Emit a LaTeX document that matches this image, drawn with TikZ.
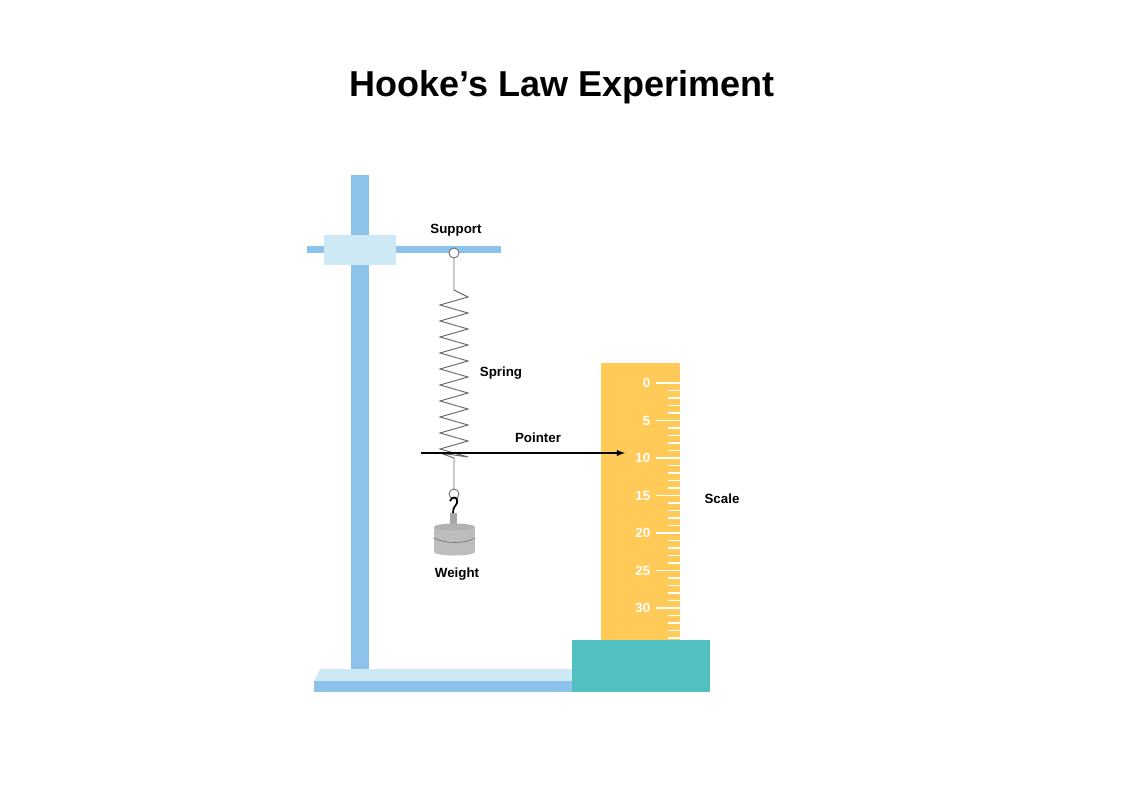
\documentclass[tikz,border=0pt]{standalone}
\usepackage{fontspec}
\setmainfont{Liberation Sans}
\usetikzlibrary{positioning}
\definecolor{rodblue}{HTML}{8DC3EA}
\definecolor{clampblue}{HTML}{CDE9F5}
\definecolor{rulergold}{HTML}{FFCA57}
\definecolor{baseteal}{HTML}{52BFC1}
\definecolor{weightgray}{HTML}{BDBDBD}
\tikzset{
  lbl/.style={font=\bfseries\fontsize{10}{12}\selectfont},
  num/.style={font=\bfseries\fontsize{10}{12}\selectfont, text=white, anchor=east},
}
\begin{document}
\begin{tikzpicture}[x=0.75pt,y=-0.75pt]
  \useasboundingbox (0,0) rectangle (1122,794);

  % Title
  \node[font=\bfseries\fontsize{27}{32}\selectfont] (title) at (562,87) {Hooke's Law Experiment};

  % Stand
  \fill[rodblue] (351,175) rectangle (369,673);
  \fill[rodblue] (307,246) rectangle (501,253);
  \fill[clampblue] (324,235) rectangle (396,265);
  \fill[clampblue] (320,669) -- (572,669) -- (572,681) -- (314,681) -- cycle;
  \fill[rodblue] (314,681) rectangle (572,692);

  % Ruler
  \fill[baseteal] (572,640) rectangle (710,692);
  \fill[rulergold] (601,363) rectangle (680,640);
  \foreach \i in {0,...,34}{
    \pgfmathsetmacro{\yy}{383+7.5*\i}
    \pgfmathtruncatemacro{\m}{mod(\i,5)}
    \ifnum\m=0
      \draw[white, line width=0.8pt] (656,\yy) -- (680,\yy);
      \node[num] at (655,\yy) {\i};
    \else
      \draw[white, line width=0.8pt] (668,\yy) -- (680,\yy);
    \fi
  }

  % Spring
  \draw[gray!80!black, line width=0.7pt] (454,258) -- (454,290)
    -- (468,297) \foreach \k in {0,...,9}{ -- (440,{305+16*\k}) -- (468,{313+16*\k}) }
    -- (440,453) -- (454,458) -- (454,489);
  \draw[gray!80!black, fill=white, line width=0.6pt] (454,253) circle (5);
  \draw[gray!80!black, fill=white, line width=0.6pt] (454,494) circle (5);

  % Weight
  \draw[black, line width=1.3pt] (450,501) .. controls (452,495) and (459,497) .. (457,503) .. controls (455,507) and (453,507) .. (453,513);
  \fill[gray!70] (450,513) rectangle (457,525);
  \fill[weightgray] (434,527) rectangle (475,552);
  \fill[weightgray] (454.5,552) ellipse (20.5 and 3.5);
  \fill[gray!60] (454.5,527) ellipse (20.5 and 3.5);
  \draw[gray!90!black, line width=0.5pt] (434,538) .. controls (445,544) and (464,544) .. (475,538);

  % Pointer
  \coordinate (ptail) at (421,453);
  \coordinate (phead) at (625,453);
  \draw[-latex, line width=1.1pt] (ptail) -- (phead);

  % Labels
  \node[lbl] (support) at (456,230) {Support};
  \node[lbl] (spring) at (501,373) {Spring};
  \node[lbl] (pointer) at (538,438) {Pointer};
  \node[lbl] (scale) at (722,499) {Scale};
  \node[lbl] (weight) at (457,574) {Weight};
\end{tikzpicture}
\end{document}
